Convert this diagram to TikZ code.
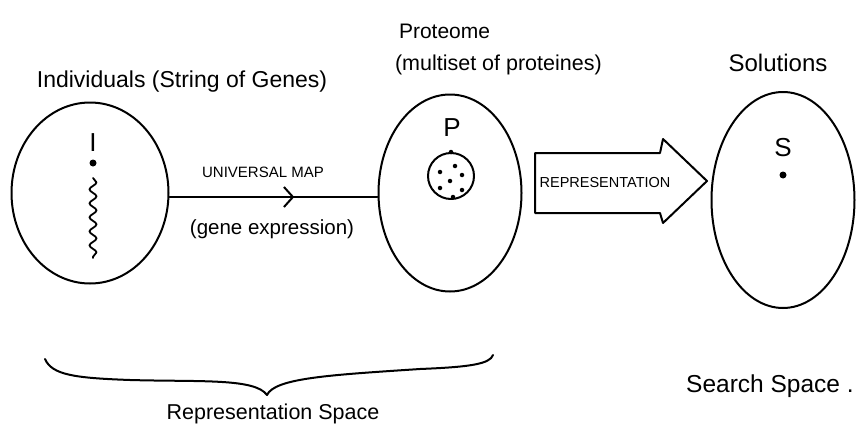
\documentclass[tikz,border=0pt]{standalone}
\usepackage{fontspec}
\setmainfont{Liberation Sans}
\usetikzlibrary{shapes.geometric,decorations.pathmorphing,decorations.markings,arrows.meta}
\newcommand{\fsz}[1]{\fontsize{#1}{#1}\selectfont}
\begin{document}
\begin{tikzpicture}[x=1pt,y=-1pt, line width=2pt, line cap=round, line join=round,
  blob/.style={draw, ellipse, inner sep=0pt},
  lbl/.style={inner sep=0pt},
  letter/.style={font=\fsz{26}, inner sep=0pt},
  bigdot/.style={fill, circle, inner sep=0pt, minimum size=7pt},
  smalldot/.style={fill, circle, inner sep=0pt, minimum size=4.5pt}]
\useasboundingbox (0,0) rectangle (860,439);
% sets
\node[blob, minimum width=157pt, minimum height=181pt] (ind) at (90,193) {};
\node[blob, minimum width=143pt, minimum height=197pt] (prot) at (450,193) {};
\node[blob, minimum width=143pt, minimum height=216pt] (sol) at (783,200) {};
% titles
\node[lbl, font=\fsz{23}] (tind) at (182,82) {Individuals (String of Genes)};
\node[lbl, font=\fsz{21}, anchor=west] (tprot) at (398,31) {Proteome};
\node[lbl, font=\fsz{21.5}, anchor=west] (tmulti) at (394,65) {(multiset of proteines)};
\node[lbl, font=\fsz{24}] (tsol) at (778,63) {Solutions};
% individual
\node[letter] (lI) at (93,143) {I};
\node[bigdot] (dI) at (93,163) {};
\coordinate (sqa) at (93,178);
\coordinate (sqb) at (93,258);
\draw[line width=1.8pt, decorate, decoration={snake, amplitude=3.5pt, segment length=14pt}] (sqa) -- (sqb);
% proteome
\node[letter] (lP) at (452,128) {P};
\node[draw, circle, minimum size=46pt, inner sep=0pt] (pc) at (451,176) {};
\node[smalldot] (d0) at (pc.north) {};
\node[smalldot] (d1) at (455,166) {};
\node[smalldot] (d2) at (440,172) {};
\node[smalldot] (d3) at (462,175) {};
\node[smalldot] (d4) at (450,181) {};
\node[smalldot] (d5) at (440,188) {};
\node[smalldot] (d6) at (462,190) {};
\node[smalldot] (d7) at (453,197) {};
% solution
\node[letter] (lS) at (783,148) {S};
\node[bigdot] (dS) at (783,175) {};
% universal map
\draw[postaction={decorate}, decoration={markings, mark=at position 0.6 with {\arrow{Straight Barb[length=9pt,width=20pt,line width=2pt]}}}]
  (ind.east |- 0,197) -- (prot.west |- 0,197);
\node[lbl, font=\fsz{15}] (tum) at (263,172) {UNIVERSAL MAP};
\node[lbl, font=\fsz{20.5}] (tge) at (272,229) {(gene expression)};
% representation block arrow
\coordinate (ra) at (535,153);
\coordinate (rb) at (660,153);
\coordinate (rc) at (663,139);
\coordinate (rtip) at (707,181);
\coordinate (rd) at (663,223);
\coordinate (re) at (660,213);
\coordinate (rf) at (535,213);
\draw (ra) -- (rb) -- (rc) -- (rtip) -- (rd) -- (re) -- (rf) -- cycle;
\node[lbl, font=\fsz{14.5}] (trep) at (605,183) {REPRESENTATION};
% brace
\coordinate (bl) at (45,359);
\coordinate (btip) at (267,395);
\coordinate (br) at (493,355);
\draw (bl) .. controls (52,375) and (75,378) .. (130,380)
      .. controls (200,382) and (255,378) .. (btip)
      .. controls (275,378) and (330,375) .. (420,369)
      .. controls (470,367) and (490,364) .. (br);
\node[lbl, font=\fsz{21.5}] (trs) at (273,414) {Representation Space};
\node[lbl, font=\fsz{24.5}] (tss) at (770,386) {Search Space .};
\end{tikzpicture}
\end{document}
